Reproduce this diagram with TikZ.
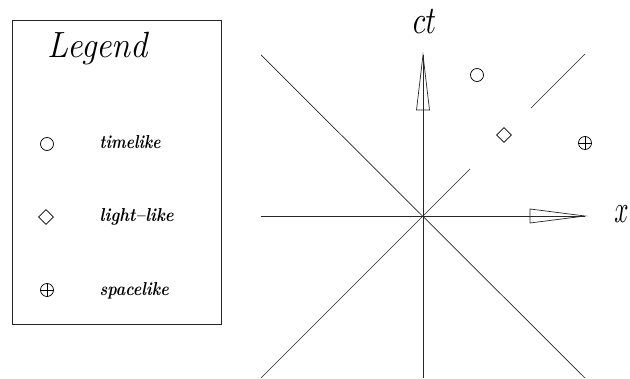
\documentclass[tikz,border=0pt]{standalone}
\usetikzlibrary{shapes.geometric}
\usepackage{graphicx}
\begin{document}
\begin{tikzpicture}[x=1pt,y=-1pt,
  ln/.style={draw=black!85, line width=0.7pt},
  circsym/.style={circle, draw=black, line width=0.7pt, minimum size=13pt, inner sep=0pt},
  diasym/.style={diamond, draw=black, line width=0.7pt, minimum size=15pt, inner sep=0pt, aspect=1},
  lbl/.style={inner sep=0pt, anchor=base west},
  bigmath/.style={inner sep=0pt, anchor=base}]
\useasboundingbox (0,0) rectangle (630,379);
% legend box
\node[draw=black!85, line width=0.7pt, minimum width=209pt, minimum height=304pt, inner sep=0pt, anchor=north west] (legend) at (12,20) {};
\node[inner sep=0pt, anchor=base] (title) at (98,58) {\scalebox{1}[1.06]{\fontsize{34.4}{34.4}\selectfont\itshape Legend}};
\node[circsym] (lc) at (47,144) {};
\node[lbl] (lt) at (99.5,149) {\resizebox{61pt}{13pt}{\bfseries\itshape timelike}};
\node[diasym] (ld) at (46,217) {};
\node[lbl] (ll) at (99.5,222) {\resizebox{74pt}{13pt}{\bfseries\itshape light{\char"2013}like}};
\node[circsym] (lo) at (47,290) {};
\draw[line width=0.7pt] (lo.north) -- (lo.south);
\draw[line width=0.7pt] (lo.west) -- (lo.east);
\node[lbl] (ls) at (99.5,296) {\resizebox{69pt}{13pt}{\bfseries\itshape spacelike}};
% axes
\coordinate (O) at (423,216);
\coordinate (L) at (261,216);
\coordinate (R) at (585,216);
\coordinate (T) at (423,55);
\coordinate (B) at (423,378);
\coordinate (TL) at (261,55);
\coordinate (BR) at (585,378);
\coordinate (BL) at (261,378);
\coordinate (g1) at (470,169);
\coordinate (g2) at (531,108);
\coordinate (TR) at (585,54);
\draw[ln] (L) -- (R);
\draw[ln] (B) -- (T);
\draw[ln] (TL) -- (BR);
\draw[ln] (BL) -- (g1);
\draw[ln] (g2) -- (TR);
\draw[ln] (T) -- ++(-6.5,55) -- ++(13,0) -- cycle;
\draw[ln] (R) -- ++(-55,-7) -- ++(0,14) -- cycle;
\node[bigmath] (ct) at (424.5,34) {\scalebox{2.9}[3.9]{$ct$}};
\node[bigmath] (xl) at (621.5,223) {\scalebox{2.5}[3.9]{$x$}};
% events
\node[circsym] (ev1) at (477,75) {};
\node[diasym] (ev2) at (504,135) {};
\node[circsym] (ev3) at (585,143) {};
\draw[line width=0.7pt] (ev3.north) -- (ev3.south);
\draw[line width=0.7pt] (ev3.west) -- (ev3.east);
\end{tikzpicture}
\end{document}
